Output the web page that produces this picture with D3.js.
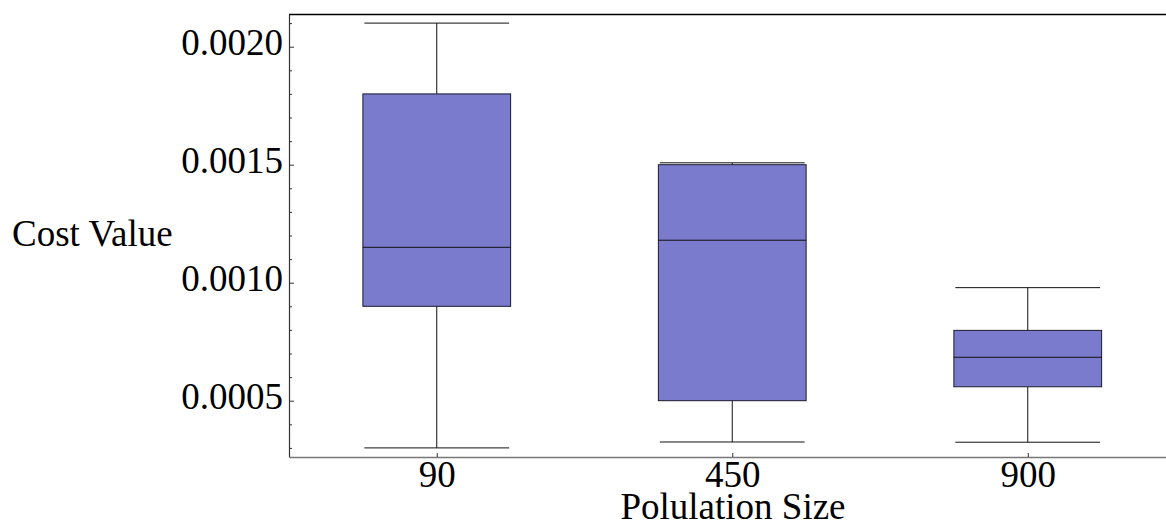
<!DOCTYPE html>
<html>
<head>
<meta charset="utf-8">
<script src="https://cdn.jsdelivr.net/npm/d3@7"></script>
<style>
  html, body { margin: 0; padding: 0; background: #fff; }
  svg { display: block; }
  text { font-family: "Liberation Serif", "Times New Roman", serif; fill: #000; }
</style>
</head>
<body>
<svg id="chart" width="1166" height="525"></svg>
<script>
// Population sizes and the cost-value distribution summary for each
const categories = ["90", "450", "900"];
const whiskerLow  = [0.00030, 0.000325, 0.000324];
const quartile1   = [0.00090, 0.00050, 0.000559];
const medians     = [0.00115, 0.00118, 0.000684];
const quartile3   = [0.00180, 0.00150, 0.000798];
const whiskerHigh = [0.00210, 0.001508, 0.000979];
const majorTicks  = [0.0005, 0.0010, 0.0015, 0.0020];
const minorTicks  = d3.range(3, 22).map(k => k * 0.0001).filter(v => !majorTicks.some(m => Math.abs(m - v) < 1e-9));

const boxes = categories.map((c, i) => ({
  cat: c, idx: i,
  lo: whiskerLow[i], q1: quartile1[i], med: medians[i], q3: quartile3[i], hi: whiskerHigh[i]
}));

const W = 1166, H = 525;
const plotLeft = 289, plotTop = 14, plotBottom = 457;
const fontSize = "37px";
const svg = d3.select("#chart");

const x = d3.scaleLinear().domain([-0.5, 2.5]).range([plotLeft, plotLeft + 3 * 295.5]);
const y = d3.scaleLinear().domain([0.0002614, 0.0021386]).range([plotBottom, plotTop]);

const boxW = 0.5, capW = 0.245;
const fill = "#7b7bcd";

// top frame line
svg.append("line")
  .attr("x1", plotLeft).attr("x2", W).attr("y1", plotTop + 0.5).attr("y2", plotTop + 0.5)
  .attr("stroke", "#000").attr("stroke-width", 1.3);

// boxes and whiskers
const g = svg.append("g");
const bx = g.selectAll("g.box").data(boxes).join("g").attr("class", "box");

// whisker stems
bx.append("line")
  .attr("x1", d => x(d.idx)).attr("x2", d => x(d.idx))
  .attr("y1", d => y(d.hi)).attr("y2", d => y(d.q3))
  .attr("stroke", "#111").attr("stroke-width", 1);
bx.append("line")
  .attr("x1", d => x(d.idx)).attr("x2", d => x(d.idx))
  .attr("y1", d => y(d.q1)).attr("y2", d => y(d.lo))
  .attr("stroke", "#111").attr("stroke-width", 1);
// caps
bx.append("line")
  .attr("x1", d => x(d.idx - capW)).attr("x2", d => x(d.idx + capW))
  .attr("y1", d => y(d.hi)).attr("y2", d => y(d.hi))
  .attr("stroke", "#111").attr("stroke-width", 1);
bx.append("line")
  .attr("x1", d => x(d.idx - capW)).attr("x2", d => x(d.idx + capW))
  .attr("y1", d => y(d.lo)).attr("y2", d => y(d.lo))
  .attr("stroke", "#111").attr("stroke-width", 1);
// box
bx.append("rect")
  .attr("x", d => x(d.idx - boxW / 2))
  .attr("width", d => x(d.idx + boxW / 2) - x(d.idx - boxW / 2))
  .attr("y", d => y(d.q3))
  .attr("height", d => y(d.q1) - y(d.q3))
  .attr("fill", fill).attr("stroke", "#1a1a2e").attr("stroke-width", 1);
// median
bx.append("line")
  .attr("x1", d => x(d.idx - boxW / 2)).attr("x2", d => x(d.idx + boxW / 2))
  .attr("y1", d => y(d.med)).attr("y2", d => y(d.med))
  .attr("stroke", "#111").attr("stroke-width", 1);

// y axis: major ticks with labels, minor ticks without
const yAxis = svg.append("g").attr("transform", `translate(${plotLeft},0)`)
  .call(d3.axisLeft(y).tickValues(majorTicks).tickSize(-5).tickSizeOuter(0)
    .tickPadding(6).tickFormat(d3.format(".4f")));
yAxis.select(".domain").attr("stroke", "#333").attr("stroke-width", 1.2);
yAxis.selectAll(".tick line").attr("stroke", "#333");
yAxis.selectAll("text").style("font-size", fontSize).attr("dy", "0.22em");
yAxis.attr("font-family", null);

const yMinor = svg.append("g").attr("transform", `translate(${plotLeft},0)`)
  .call(d3.axisLeft(y).tickValues(minorTicks).tickSize(-3).tickFormat(""));
yMinor.select(".domain").remove();
yMinor.selectAll(".tick line").attr("stroke", "#333");

// x axis
const xAxis = svg.append("g").attr("transform", `translate(0,${plotBottom})`)
  .call(d3.axisBottom(x).tickValues(d3.range(categories.length)).tickSize(-4).tickSizeOuter(0)
    .tickPadding(4).tickFormat(i => categories[i]));
xAxis.select(".domain").attr("stroke", "#777").attr("stroke-width", 1.5);
xAxis.selectAll(".tick line").attr("stroke", "#333");
xAxis.selectAll("text").style("font-size", fontSize);
xAxis.attr("font-family", null);

// axis titles
svg.append("text").attr("x", 12).attr("y", 246)
  .style("font-size", fontSize).text("Cost Value");
svg.append("text").attr("x", 733).attr("y", 519).attr("text-anchor", "middle")
  .style("font-size", fontSize).text("Polulation Size");
</script>
</body>
</html>
